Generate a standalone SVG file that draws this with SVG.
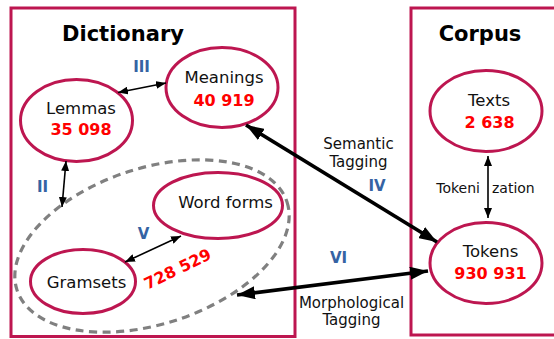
<svg xmlns="http://www.w3.org/2000/svg" width="554" height="339" viewBox="0 0 554 339">
<style>
.box{fill:none;stroke:#bd1650;stroke-width:3}
.node{fill:#fff;stroke:#bd1650;stroke-width:3}
.title{font-family:"DejaVu Sans",sans-serif;font-weight:bold;font-size:21px;fill:#000;text-anchor:middle}
.lbl{font-family:"DejaVu Sans",sans-serif;font-size:16.5px;fill:#111;text-anchor:middle}
.num{font-family:"DejaVu Sans",sans-serif;font-weight:bold;font-size:16px;fill:#ff0000;text-anchor:middle}
.rn{font-family:"DejaVu Sans",sans-serif;font-weight:bold;font-size:15px;fill:#3563a3;text-anchor:middle}
.cap{font-family:"DejaVu Sans",sans-serif;font-size:15px;fill:#111;text-anchor:middle}
.thin{stroke:#000;stroke-width:1.6;fill:none;marker-start:url(#ah);marker-end:url(#ah)}
.thick{stroke:#000;stroke-width:3.7;fill:none;marker-start:url(#AH);marker-end:url(#AH)}
</style>
<defs>
<marker id="ah" viewBox="0 0 10 8" refX="10" refY="4" markerWidth="10" markerHeight="8" markerUnits="userSpaceOnUse" orient="auto-start-reverse">
<path d="M0,0 L10,4 L0,8 Z" fill="#000"/>
</marker>
<marker id="AH" viewBox="0 0 18 13" refX="18" refY="6.5" markerWidth="18" markerHeight="13" markerUnits="userSpaceOnUse" orient="auto-start-reverse">
<path d="M0,0 L18,6.5 L0,13 Z" fill="#000"/>
</marker>
</defs>
<rect width="554" height="339" fill="#fff"/>
<g id="dictionary">
<rect class="box" x="11" y="8" width="284" height="328.5"/>
<text class="title" x="123" y="41">Dictionary</text>
</g>
<g id="corpus">
<rect class="box" x="411" y="8" width="150" height="327"/>
<text class="title" x="480" y="41">Corpus</text>
</g>
<g id="wordgroup">
<ellipse cx="152" cy="246" rx="142" ry="78" transform="rotate(-18 152 246)" fill="none" stroke="#808080" stroke-width="3.2" stroke-dasharray="8 5.5"/>
</g>
<g id="lemmas">
<ellipse class="node" cx="76.5" cy="120.5" rx="56" ry="41"/>
<text class="lbl" x="81" y="114">Lemmas</text>
<text class="num" x="81" y="135">35 098</text>
</g>
<g id="meanings">
<ellipse class="node" cx="222" cy="87.5" rx="56" ry="40"/>
<text class="lbl" x="224" y="83">Meanings</text>
<text class="num" x="224" y="106">40 919</text>
</g>
<g id="wordforms">
<ellipse class="node" cx="218" cy="205.5" rx="64.5" ry="33"/>
<text class="lbl" x="225.5" y="208">Word forms</text>
</g>
<g id="gramsets">
<ellipse class="node" cx="83" cy="281.5" rx="52.5" ry="32"/>
<text class="lbl" x="86.5" y="288">Gramsets</text>
</g>
<g id="texts">
<ellipse class="node" cx="486" cy="111" rx="56" ry="40.5"/>
<text class="lbl" x="489" y="106">Texts</text>
<text class="num" x="489.5" y="128">2 638</text>
</g>
<g id="tokens">
<ellipse class="node" cx="486" cy="263" rx="56" ry="40.5"/>
<text class="lbl" x="490.5" y="257">Tokens</text>
<text class="num" x="490.5" y="279">930 931</text>
</g>
<g id="connectors">
<line class="thin" x1="118" y1="92.5" x2="166" y2="83"/>
<line class="thin" x1="66" y1="161" x2="62" y2="207"/>
<line class="thin" x1="125" y1="262" x2="181" y2="236"/>
<line class="thin" x1="488" y1="156" x2="488" y2="218"/>
<line class="thick" x1="246" y1="125" x2="437" y2="242"/>
<line class="thick" x1="237" y1="295" x2="428" y2="271"/>
</g>
<g id="labels">
<text class="rn" x="141.5" y="72">III</text>
<text class="rn" x="42.5" y="192">II</text>
<text class="rn" x="143.5" y="239">V</text>
<text class="rn" x="377" y="191">IV</text>
<text class="rn" x="338.5" y="263">VI</text>
<text class="num" x="0" y="0" transform="translate(180 274) rotate(-26)">728 529</text>
<text class="cap" x="358.5" y="149">Semantic</text>
<text class="cap" x="358.5" y="167">Tagging</text>
<text class="cap" x="351.5" y="308">Morphological</text>
<text class="cap" x="351.5" y="325">Tagging</text>
<text class="cap" x="480" y="193" style="font-size:14px;text-anchor:end">Tokeni</text>
<text class="cap" x="492" y="193" style="font-size:14px;text-anchor:start">zation</text>
</g>
</svg>
